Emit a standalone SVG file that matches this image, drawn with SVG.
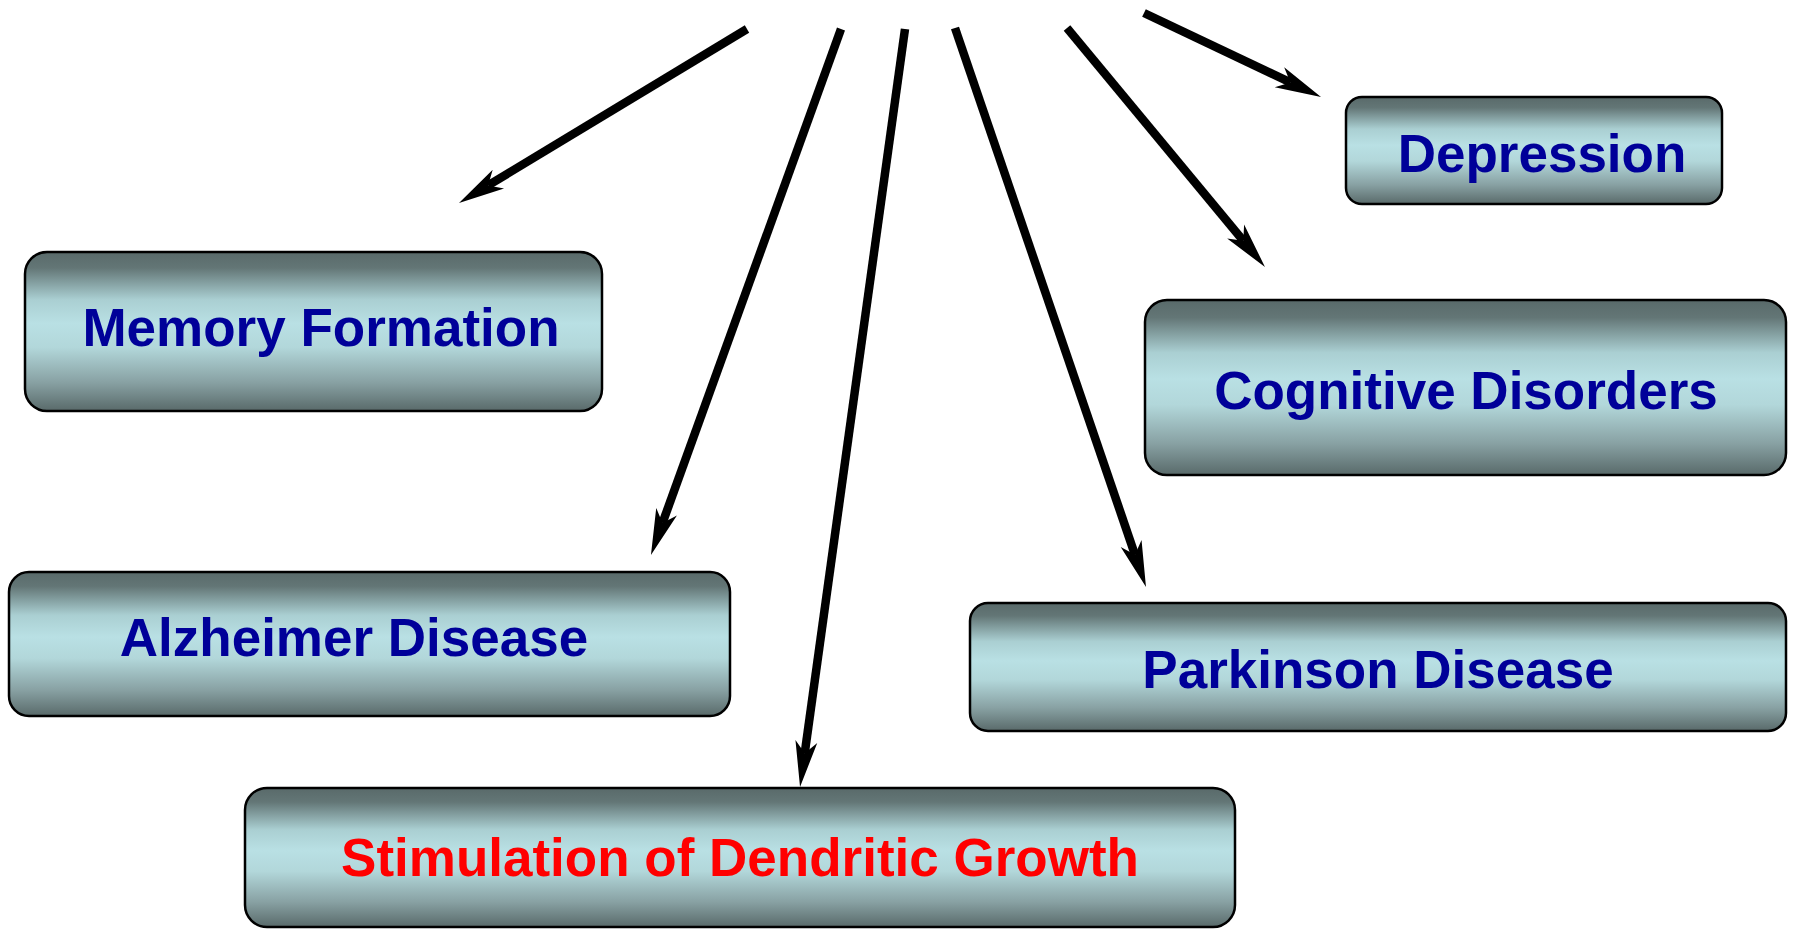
<svg xmlns="http://www.w3.org/2000/svg" width="1796" height="929" viewBox="0 0 1796 929">
<style>
.box{fill:url(#g);stroke:#000;stroke-width:2.5}
.lbl{font-family:"Liberation Sans",Arial,sans-serif;font-weight:bold;font-size:53px;fill:#000099;text-anchor:middle}
.red{fill:#ff0000}
.arr{stroke:#000;stroke-width:8.5;fill:none;marker-end:url(#ah)}
</style>
<defs>
<linearGradient id="g" x1="0" y1="0" x2="0" y2="1">
<stop offset="0" stop-color="#596a6a"/>
<stop offset="0.1" stop-color="#637676"/>
<stop offset="0.3" stop-color="#aacfd2"/>
<stop offset="0.45" stop-color="#b9e0e4"/>
<stop offset="0.6" stop-color="#b2d7da"/>
<stop offset="0.82" stop-color="#88a1a3"/>
<stop offset="1" stop-color="#596a6a"/>
</linearGradient>
<marker id="ah" markerUnits="userSpaceOnUse" orient="auto" refX="0" refY="0" markerWidth="100" markerHeight="100" overflow="visible">
<path d="M34,0 L-12,-11 L0,0 L-12,11 Z" fill="#000"/>
</marker>
</defs>
<g id="connectors">
<line class="arr" x1="747" y1="29" x2="488.1" y2="185.4"/>
<line class="arr" x1="841" y1="29" x2="662.5" y2="523"/>
<line class="arr" x1="905" y1="29" x2="804.7" y2="753.3"/>
<line class="arr" x1="955" y1="28" x2="1135" y2="554.8"/>
<line class="arr" x1="1067" y1="28" x2="1243.3" y2="240.8"/>
<line class="arr" x1="1144" y1="13" x2="1290.3" y2="82.4"/>
</g>
<g id="memory-formation">
<rect class="box" x="25" y="252" width="577" height="159" rx="22"/>
<text class="lbl" x="321" y="346">Memory Formation</text>
</g>
<g id="alzheimer-disease">
<rect class="box" x="9" y="572" width="721" height="144" rx="20"/>
<text class="lbl" x="354" y="656">Alzheimer Disease</text>
</g>
<g id="stimulation">
<rect class="box" x="245" y="788" width="990" height="139" rx="22"/>
<text class="lbl red" x="740" y="876">Stimulation of Dendritic Growth</text>
</g>
<g id="parkinson-disease">
<rect class="box" x="970" y="603" width="816" height="128" rx="18"/>
<text class="lbl" x="1378" y="688">Parkinson Disease</text>
</g>
<g id="cognitive-disorders">
<rect class="box" x="1145" y="300" width="641" height="175" rx="22"/>
<text class="lbl" x="1466" y="409">Cognitive Disorders</text>
</g>
<g id="depression">
<rect class="box" x="1346" y="97" width="376" height="107" rx="16"/>
<text class="lbl" x="1542" y="172">Depression</text>
</g>
</svg>
